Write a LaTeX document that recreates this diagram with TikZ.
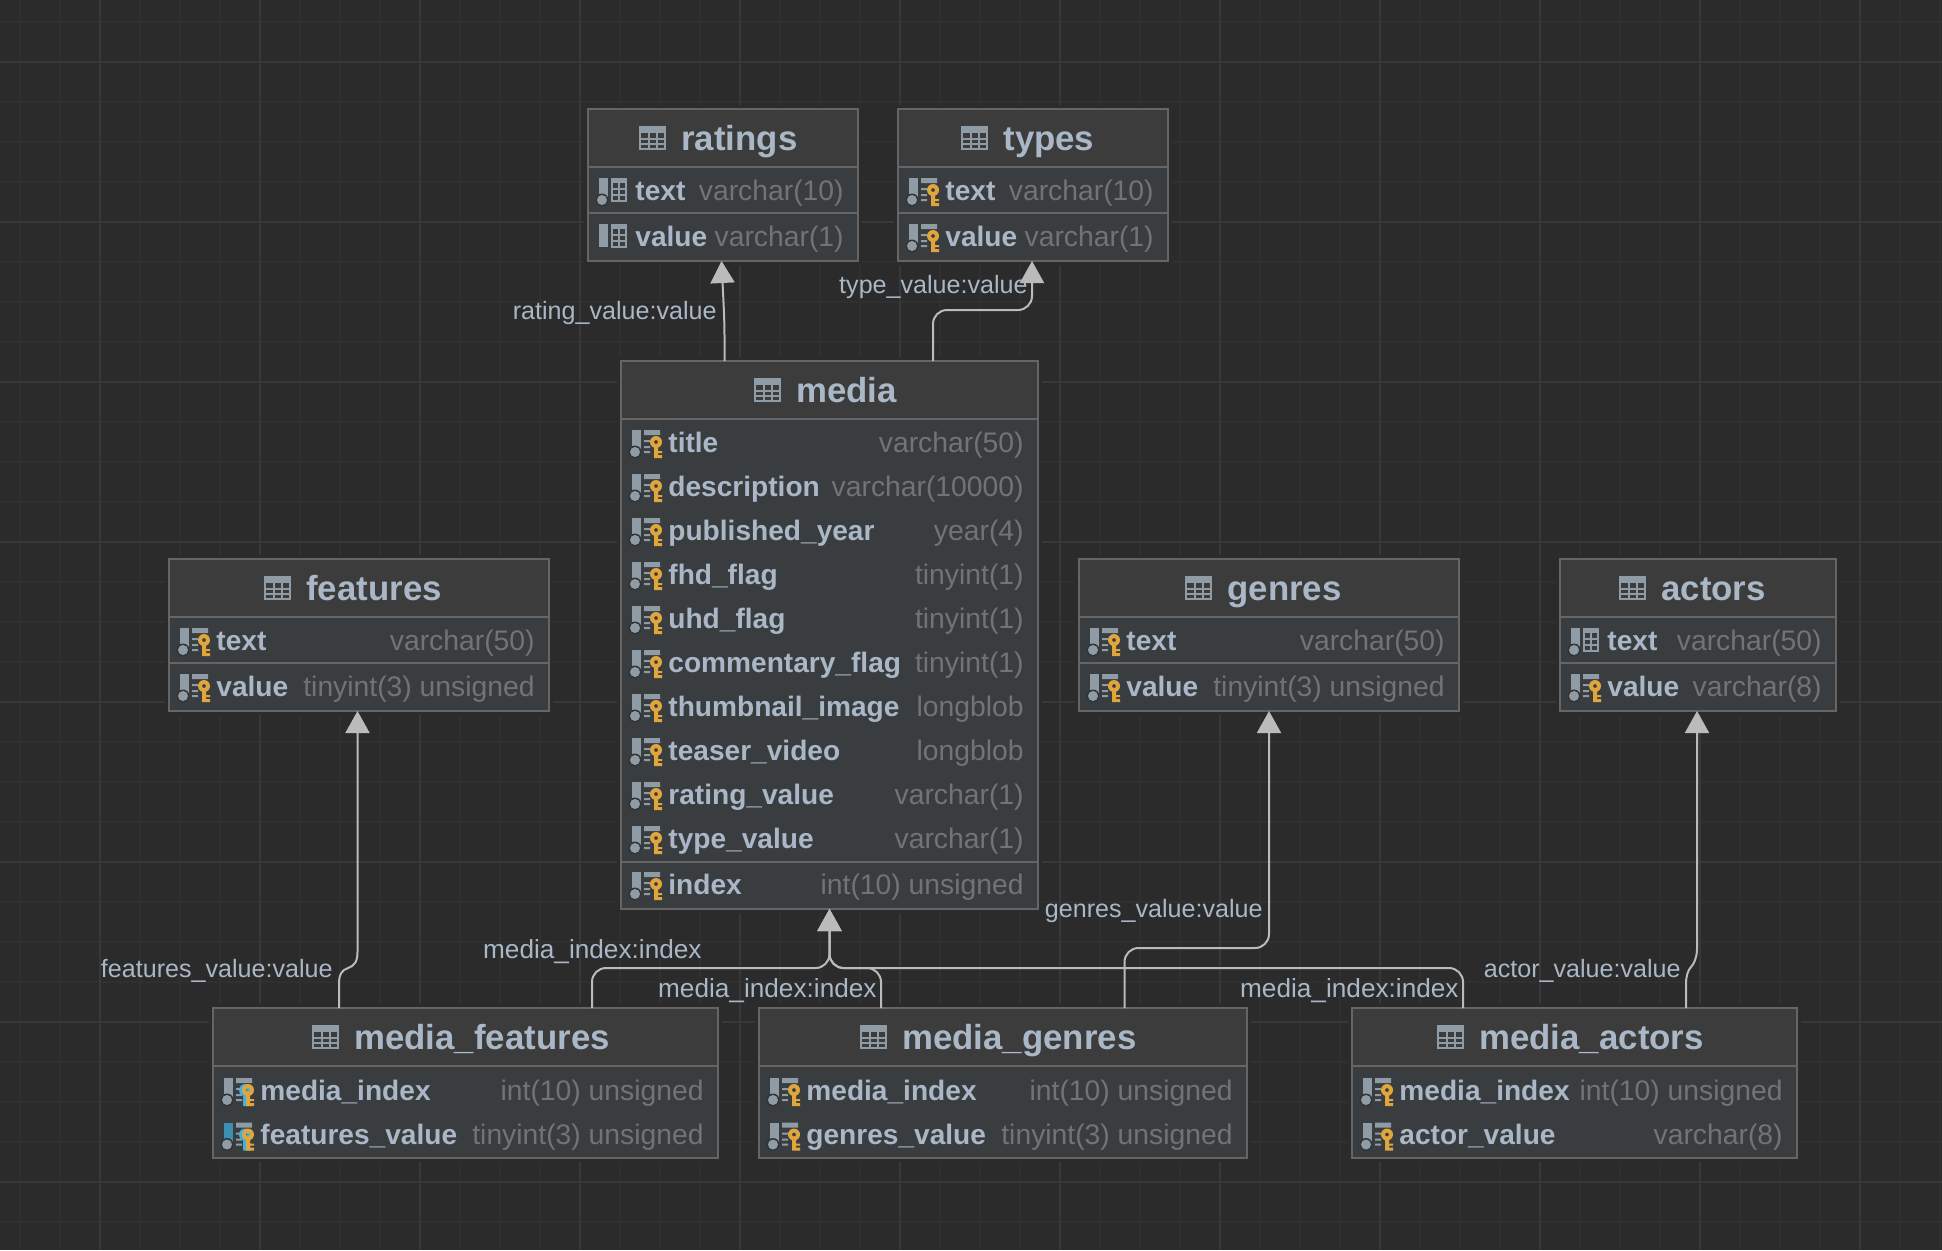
\documentclass[tikz,border=0pt]{standalone}
\usepackage{fontspec}
\setmainfont{Liberation Sans}
\usetikzlibrary{calc,arrows.meta}
\definecolor{bgcol}{HTML}{2B2B2B}
\definecolor{gridminor}{HTML}{303030}
\definecolor{gridmajor}{HTML}{383838}
\definecolor{headcol}{HTML}{3C3C3C}
\definecolor{rowcol}{HTML}{3A3D40}
\definecolor{edgecol}{HTML}{656565}
\definecolor{namecol}{HTML}{A9B7C6}
\definecolor{typecol}{HTML}{717375}
\definecolor{conncol}{HTML}{BBBBBB}
\definecolor{iconcol}{HTML}{8F9BA5}
\definecolor{goldkey}{HTML}{E0A63C}
\definecolor{bluekey}{HTML}{3FB0E0}
\definecolor{bluebar}{HTML}{3C8FB5}
\newcommand\iconbar[2]{\fill[#1] (0,-13) rectangle (9,#2);}
\newcommand\icondot{\fill[bgcol!50!rowcol] (3,9) circle[radius=6.5];\fill[iconcol] (3,9) circle[radius=5];}
\newcommand\icontable{\fill[iconcol] (12,-13) rectangle (28,-8);
  \draw[iconcol,line width=1pt] (13,-9) rectangle (27,10) (20,-9) -- (20,10) (13,-2) -- (27,-2) (13,4) -- (27,4);}
\newcommand\iconlines{\fill[iconcol] (12,-13) rectangle (28,-8)
  (12,-3) rectangle (18,-1) (12,3) rectangle (18,5) (12,8) rectangle (18,10);}
\newcommand\iconkey[2]{\begin{scope}[xshift=#2*0.5pt]
  \fill[#1,even odd rule] (24,-1) circle[radius=6] (24,-1) circle[radius=2];
  \fill[#1] (22,3) rectangle (26,15) (26,8) rectangle (30,10) (26,12) rectangle (30,15);
  \end{scope}}
\tikzset{
  x=0.5pt,y=-0.5pt,
  tbl/.style={draw=edgecol,fill=rowcol,line width=1pt,inner sep=0pt,outer sep=0pt,rectangle},
  titletext/.style={anchor=base west,inner sep=0pt,text=namecol,font=\fontsize{17.4}{20}\selectfont\bfseries},
  colname/.style={anchor=base west,inner sep=0pt,text=namecol,font=\fontsize{14.05}{16}\selectfont\bfseries},
  coltype/.style={anchor=base east,inner sep=0pt,text=typecol,font=\fontsize{14.15}{16}\selectfont},
  fklabel/.style={inner sep=0pt,anchor=base east,text=namecol,font=\fontsize{13.1}{15}\selectfont},
  vallabel/.style={inner sep=0pt,anchor=base east,text=namecol,font=\fontsize{12.55}{15}\selectfont},
  conn/.style={draw=conncol,line width=1pt,rounded corners=7pt,-{Triangle[width=12pt,length=11pt]}},
  jogconn/.style={conn,sharp corners},
  sepline/.style={draw=edgecol,line width=1pt},
  pics/plainicon/.style={code={\iconbar{iconcol}{10}\icontable}},
  pics/plaindot/.style={code={\iconbar{iconcol}{7}\icontable\icondot}},
  pics/keyicon/.style={code={\iconbar{iconcol}{7}\iconlines\icondot\iconkey{goldkey}{0}}},
  pics/fkicon/.style={code={\iconbar{iconcol}{7}\iconlines\icondot\iconkey{bluekey}{-3}\iconkey{goldkey}{0}}},
  pics/fkblueicon/.style={code={\iconbar{bluebar}{7}\iconlines\icondot\iconkey{bluekey}{-3}\iconkey{goldkey}{0}}},
  pics/titleicon/.style={code={\fill[iconcol] (0,0) rectangle (27,7);
    \draw[iconcol,line width=1pt] (1,1) rectangle (26,23) (9.5,1) -- (9.5,23) (17.5,1) -- (17.5,23) (1,12.5) -- (26,12.5) (1,18) -- (26,18);}},
}
% box name, left, top, right, bottom, icon offset, title
\newcommand\dbbox[7]{%
  \fill[bgcol] (#2-4,#3-4) rectangle (#4+4,#5+4);
  \node[tbl,anchor=north west,minimum width=(#4-#2)*0.5pt,minimum height=(#5-#3)*0.5pt] (#1) at (#2,#3) {};
  \fill[headcol] (#2+1,#3+1) rectangle (#4-1,#3+58);
  \dbsep{#1}{58}
  \pic at ($(#1.north west)+(#6,17)$) {titleicon};
  \node[titletext] (#1-title) at ($(#1.north west)+(#6+42,41.5)$) {#7};
}
\newcommand\dbsep[2]{\draw[sepline] ($(#1.north west)+(0,#2)$) -- ($(#1.north east)+(0,#2)$);}
% box, id, y offset, icon, name, type
\newcommand\dbrow[6]{%
  \pic at ($(#1.north west)+(11,#3)$) {#4};
  \node[colname] (#1-#2-n) at ($(#1.north west)+(47,#3+9)$) {#5};
  \node[coltype] (#1-#2-t) at ($(#1.north east)+(-14,#3+9)$) {#6};
}
\begin{document}
\begin{tikzpicture}
\useasboundingbox (0,0) rectangle (1942,1250);
\fill[bgcol] (0,0) rectangle (1942,1250);
\foreach \i in {0,...,48} {\draw[gridminor,line width=1pt] (20+40*\i,0) -- (20+40*\i,1250);}
\foreach \i in {0,...,31} {\draw[gridminor,line width=1pt] (0,22+40*\i) -- (1942,22+40*\i);}
\foreach \i in {0,...,11} {\draw[gridmajor,line width=1pt] (100+160*\i,0) -- (100+160*\i,1250);}
\foreach \i in {0,...,7} {\draw[gridmajor,line width=1pt] (0,62+160*\i) -- (1942,62+160*\i);}

\dbbox{ratings}{588}{109}{858}{261}{51}{ratings}
\dbsep{ratings}{104}
\dbrow{ratings}{r1}{82}{plaindot}{text}{varchar(10)}
\dbrow{ratings}{r2}{128}{plainicon}{value}{varchar(1)}

\dbbox{types}{898}{109}{1168}{261}{63}{types}
\dbsep{types}{104}
\dbrow{types}{r1}{82}{keyicon}{text}{varchar(10)}
\dbrow{types}{r2}{128}{keyicon}{value}{varchar(1)}

\dbbox{media}{621}{361}{1038}{909}{133}{media}
\dbsep{media}{501}
\dbrow{media}{r1}{82}{keyicon}{title}{varchar(50)}
\dbrow{media}{r2}{126}{keyicon}{description}{varchar(10000)}
\dbrow{media}{r3}{170}{keyicon}{published\_year}{year(4)}
\dbrow{media}{r4}{214}{keyicon}{fhd\_flag}{tinyint(1)}
\dbrow{media}{r5}{258}{keyicon}{uhd\_flag}{tinyint(1)}
\dbrow{media}{r6}{302}{keyicon}{commentary\_flag}{tinyint(1)}
\dbrow{media}{r7}{346}{keyicon}{thumbnail\_image}{longblob}
\dbrow{media}{r8}{390}{keyicon}{teaser\_video}{longblob}
\dbrow{media}{r9}{434}{keyicon}{rating\_value}{varchar(1)}
\dbrow{media}{r10}{478}{keyicon}{type\_value}{varchar(1)}
\dbrow{media}{r11}{524}{keyicon}{index}{int(10) unsigned}

\dbbox{features}{169}{559}{549}{711}{95}{features}
\dbsep{features}{104}
\dbrow{features}{r1}{82}{keyicon}{text}{varchar(50)}
\dbrow{features}{r2}{128}{keyicon}{value}{tinyint(3) unsigned}

\dbbox{genres}{1079}{559}{1459}{711}{106}{genres}
\dbsep{genres}{104}
\dbrow{genres}{r1}{82}{keyicon}{text}{varchar(50)}
\dbrow{genres}{r2}{128}{keyicon}{value}{tinyint(3) unsigned}

\dbbox{actors}{1560}{559}{1836}{711}{59}{actors}
\dbsep{actors}{104}
\dbrow{actors}{r1}{82}{plaindot}{text}{varchar(50)}
\dbrow{actors}{r2}{128}{keyicon}{value}{varchar(8)}

\dbbox{mfeatures}{213}{1008}{718}{1158}{99}{media\_features}
\dbrow{mfeatures}{r1}{83}{fkicon}{media\_index}{int(10) unsigned}
\dbrow{mfeatures}{r2}{127.5}{fkblueicon}{features\_value}{tinyint(3) unsigned}

\dbbox{mgenres}{759}{1008}{1247}{1158}{101}{media\_genres}
\dbrow{mgenres}{r1}{83}{keyicon}{media\_index}{int(10) unsigned}
\dbrow{mgenres}{r2}{127.5}{keyicon}{genres\_value}{tinyint(3) unsigned}

\dbbox{mactors}{1352}{1008}{1797}{1158}{85}{media\_actors}
\dbrow{mactors}{r1}{83}{keyicon}{media\_index}{int(10) unsigned}
\dbrow{mactors}{r2}{127.5}{keyicon}{actor\_value}{varchar(8)}

% connectors
\draw[conn] ($(media.north west)+(103.5,0)$) -- ++(0,-38) -- ($(ratings.south)+(-1.5,0)$);
\draw[conn] ($(media.north west)+(312,0)$) -- ++(0,-51) -| ($(types.south)+(-1,0)$);
\draw[jogconn] ($(mfeatures.north west)+(126,0)$) -- ++(0,-24)
  .. controls +(0,-10) and +(-6,2) .. ++(9,-16)
  .. controls +(6,-2) and +(0,10) .. ++(9.5,-16) -- ($(features.south)+(-1.5,0)$);
\draw[jogconn] ($(mactors.north west)+(334,0)$) -- ++(0,-24)
  .. controls +(0,-8) and +(-3,3) .. ++(5,-17)
  .. controls +(3,-3) and +(0,8) .. ++(6,-18) -- ($(actors.south)+(-1,0)$);
\draw[conn] ($(mgenres.north west)+(365.5,0)$) -- ++(0,-60) -| (genres.south);
\draw[conn] ($(mfeatures.north west)+(379,0)$) -- ++(0,-40) -| (media.south);
\draw[conn] ($(mgenres.north west)+(122,0)$) -- ++(0,-40) -| (media.south);
\draw[conn] ($(mactors.north west)+(111,0)$) -- ++(0,-40) -| (media.south);

% connector labels
\node[vallabel] (lrating) at (717,319) {rating\_value:value};
\node[vallabel] (ltype) at (1028,293) {type\_value:value};
\node[vallabel] (lfeatures) at (333,977) {features\_value:value};
\node[fklabel] (lmfeat) at (702,958.5) {media\_index:index};
\node[fklabel] (lmgen) at (877,997) {media\_index:index};
\node[fklabel] (lmact) at (1459,997) {media\_index:index};
\node[vallabel] (lgenres) at (1263,917) {genres\_value:value};
\node[vallabel] (lactor) at (1681,977) {actor\_value:value};
\end{tikzpicture}
\end{document}
